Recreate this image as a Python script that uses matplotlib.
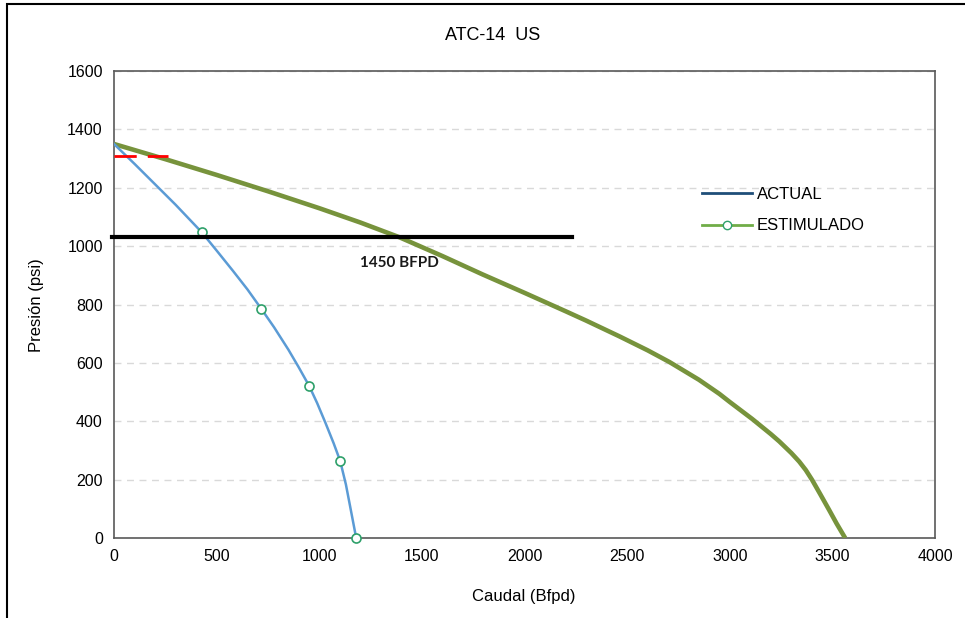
import matplotlib
matplotlib.use("Agg")
import matplotlib.pyplot as plt
from matplotlib.lines import Line2D
from matplotlib.patches import Rectangle

# curva actual (IPR)
q_actual = [0, 100, 200, 300, 427, 500, 580, 650, 718, 780, 850, 900, 951, 990, 1030, 1070,
            1102, 1130, 1150, 1165, 1180]
p_actual = [1350, 1282, 1212, 1142, 1048, 985, 915, 852, 785, 722, 645, 585, 521, 462, 395, 325,
            264, 183, 110, 55, 0]
# puntos marcados sobre la curva actual
q_pts = [427, 718, 951, 1102, 1180]
p_pts = [1048, 785, 521, 264, 0]

# curva estimulada
q_estim = [0, 250, 500, 750, 1000, 1200, 1392, 1600, 1796, 2000, 2200, 2300, 2462, 2600, 2706,
           2850, 2949, 3000, 3109, 3200, 3241, 3300, 3338, 3370, 3401, 3440, 3484, 3520, 3562]
p_estim = [1350, 1298, 1244, 1188, 1130, 1081, 1030, 966, 903, 840, 777, 745, 691, 643, 603,
           542, 494, 466, 408, 356, 331, 291, 262, 233, 199, 151, 96, 50, 0]

# linea de presion de operacion y presion de burbuja (roja)
p_oper = 1031
q_oper_fin = 2233
p_roja = 1309
q_roja_fin = 262

etiqueta = "1450 BFPD"

plt.rcParams['font.family'] = ['Liberation Sans', 'DejaVu Sans']

fig = plt.figure(figsize=(9.65, 6.18), dpi=100)
ax = fig.add_axes([0.1181, 0.1294, 0.969 - 0.1181, 0.8851 - 0.1294])

ax.set_xlim(0, 4000)
ax.set_ylim(0, 1600)
ax.set_xticks(range(0, 4001, 500))
ax.set_yticks(range(0, 1601, 200))
ax.yaxis.grid(True, linestyle=(0, (5, 4)), color='#D9D9D9', linewidth=1)
ax.set_axisbelow(True)
ax.tick_params(length=0, labelsize=11.5, pad=8, colors='#000000')
for s in ax.spines.values():
    s.set_color('#595959')
    s.set_linewidth(1.2)

ax.plot(q_estim, p_estim, color='#77933C', lw=3.3, solid_capstyle='butt',
        solid_joinstyle='round', zorder=3)
ax.plot(q_actual, p_actual, color='#5B9BD5', lw=1.8, solid_joinstyle='round', zorder=4)
ax.plot(q_pts, p_pts, ls='none', marker='o', ms=6.5, mfc='white', mec='#2EA06A',
        mew=1.2, zorder=5, clip_on=False)

ax.plot([-10, q_oper_fin], [p_oper, p_oper], color='black', lw=3, zorder=6, clip_on=False)
ax.plot([0, q_roja_fin], [p_roja, p_roja], color='#FF0000', lw=2,
        dashes=(8, 4), zorder=6)

ax.text(1200, 942, etiqueta, fontsize=11, fontweight='bold', family=['Lato', 'DejaVu Sans'],
        color='#1a1a1a', ha='left', va='center', zorder=7)

handles = [Line2D([], [], color='#1F4E79', lw=2),
           Line2D([], [], color='#70AD47', lw=2, marker='o', ms=6, mfc='white', mec='#2EA06A')]
fig.legend(handles, ['ACTUAL', 'ESTIMULADO'], loc='upper left',
           bbox_to_anchor=(0.712, 0.722), frameon=False, fontsize=12,
           handlelength=3.0, labelspacing=1.0, handletextpad=0.3)

fig.text(0.5105, 0.943, 'ATC-14  US', ha='center', va='center', fontsize=13)
fig.text(0.5425, 0.034, 'Caudal (Bfpd)', ha='center', va='center', fontsize=12)
fig.text(0.038, 0.5065, 'Presión (psi)', ha='center', va='center', fontsize=12, rotation=90)

fig.patches.append(Rectangle((0.007, -0.05), 1.2, 0.9935 + 0.05, transform=fig.transFigure,
                             fill=False, edgecolor='black', lw=1.5, clip_on=False))

fig.savefig('out.png', dpi=100)
